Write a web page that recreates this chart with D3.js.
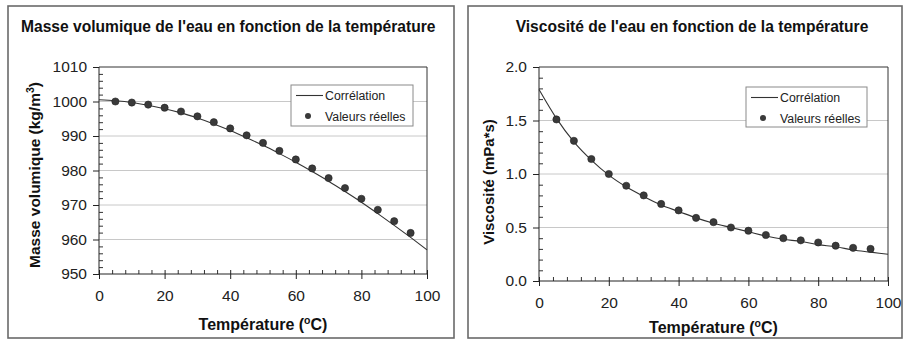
<!DOCTYPE html>
<html>
<head>
<meta charset="utf-8">
<script src="https://cdn.jsdelivr.net/npm/d3@7"></script>
<style>
  html, body { margin: 0; padding: 0; background: #fff; }
  svg { display: block; font-family: "Liberation Sans", Arial, sans-serif; }
</style>
</head>
<body>
<svg id="chart" width="903" height="341"></svg>
<script>
// Temperatures (°C)
const tempPoints = [5, 10, 15, 20, 25, 30, 35, 40, 45, 50, 55, 60, 65, 70, 75, 80, 85, 90, 95];
const tempCurve = [0, 5, 10, 15, 20, 25, 30, 35, 40, 45, 50, 55, 60, 65, 70, 75, 80, 85, 90, 95, 100];

// Density of water (kg/m3): measured values and correlation curve
const densityMeasured = [1000.0, 999.7, 999.1, 998.2, 997.1, 995.7, 994.0, 992.2, 990.2, 988.0,
                         985.7, 983.2, 980.6, 977.8, 974.9, 971.8, 968.6, 965.3, 961.9];
const densityCorrelation = [1000.5, 1000.2, 999.7, 998.9, 997.9, 996.7, 995.2, 993.5, 991.6, 989.5,
                            987.3, 984.9, 982.4, 979.7, 976.9, 973.9, 970.8, 967.5, 964.1, 960.6, 957.0];

// Viscosity of water (mPa*s): measured values and correlation curve
const viscosityMeasured = [1.51, 1.31, 1.14, 1.00, 0.89, 0.80, 0.72, 0.66, 0.59, 0.55,
                           0.50, 0.47, 0.43, 0.40, 0.38, 0.36, 0.33, 0.31, 0.30];
const viscosityCorrelation = [1.79, 1.52, 1.30, 1.13, 0.99, 0.88, 0.79, 0.71, 0.65, 0.59,
                              0.54, 0.50, 0.46, 0.42, 0.39, 0.37, 0.34, 0.32, 0.29, 0.27, 0.25];

// Axis ticks
const xTicks = [0, 20, 40, 60, 80, 100];
const densityTicks = [950, 960, 970, 980, 990, 1000, 1010];
const viscosityTicks = [0.0, 0.5, 1.0, 1.5, 2.0];

const legendLabels = ["Corrélation", "Valeurs réelles"];

const svg = d3.select("#chart");

function panel(cfg) {
  const g = svg.append("g");

  // outer frame
  g.append("rect")
    .attr("x", cfg.frame[0]).attr("y", cfg.frame[1])
    .attr("width", cfg.frame[2]).attr("height", cfg.frame[3])
    .attr("fill", "#fff").attr("stroke", "#6a6a6a").attr("stroke-width", 1.6);

  // title
  g.append("text")
    .attr("x", cfg.titleX).attr("y", 32)
    .attr("text-anchor", cfg.titleAnchor)
    .attr("font-size", 15.6).attr("font-weight", "bold").attr("fill", "#111")
    .text(cfg.title);

  const x = d3.scaleLinear().domain([0, 100]).range([cfg.plot[0], cfg.plot[1]]);
  const y = d3.scaleLinear().domain(cfg.yDomain).range([cfg.plot[3], cfg.plot[2]]);

  // gridlines
  g.append("g").selectAll("line")
    .data(cfg.yTicks.slice(1, -1))
    .join("line")
    .attr("x1", x(0)).attr("x2", x(100))
    .attr("y1", d => y(d)).attr("y2", d => y(d))
    .attr("stroke", "#c8c8c8").attr("stroke-width", 1);

  // top and right border of plot area
  g.append("path")
    .attr("d", `M${x(0)},${y(cfg.yDomain[1])}H${x(100)}V${y(cfg.yDomain[0])}`)
    .attr("fill", "none").attr("stroke", "#333").attr("stroke-width", 1);

  // x minor ticks (inside)
  const xMinor = d3.range(0, 101, 4).filter(v => v % 20 !== 0);
  g.append("g")
    .attr("transform", `translate(0,${y(cfg.yDomain[0])})`)
    .call(d3.axisBottom(x).tickValues(xMinor).tickSize(-4).tickFormat(""))
    .call(a => a.select(".domain").remove())
    .selectAll("line").attr("stroke", "#333");

  // x axis
  const xAxis = g.append("g")
    .attr("transform", `translate(0,${y(cfg.yDomain[0])})`)
    .call(d3.axisBottom(x).tickValues(xTicks).tickSize(5).tickPadding(11).tickFormat(d3.format("d")));
  xAxis.select(".domain").attr("stroke", "#222").attr("d", `M${x(0)},0H${x(100)}`);
  xAxis.selectAll(".tick line").attr("stroke", "#222").attr("y1", -4);
  xAxis.selectAll("text").attr("font-size", 15.5).attr("fill", "#222")
    .attr("font-family", "Liberation Sans, Arial, sans-serif");

  // y minor ticks (inside)
  g.append("g")
    .attr("transform", `translate(${x(0)},0)`)
    .call(d3.axisLeft(y).tickValues(cfg.yMinor).tickSize(-4).tickFormat(""))
    .call(a => a.select(".domain").remove())
    .selectAll("line").attr("stroke", "#333");

  // y axis
  const yAxis = g.append("g")
    .attr("transform", `translate(${x(0)},0)`)
    .call(d3.axisLeft(y).tickValues(cfg.yTicks).tickSize(6).tickPadding(6).tickFormat(cfg.yFormat));
  yAxis.select(".domain").attr("stroke", "#222").attr("d", `M0,${y(cfg.yDomain[0])}V${y(cfg.yDomain[1])}`);
  yAxis.selectAll(".tick line").attr("stroke", "#222");
  yAxis.selectAll("text").attr("font-size", 15.5).attr("fill", "#222")
    .attr("font-family", "Liberation Sans, Arial, sans-serif");

  // correlation curve
  const line = d3.line()
    .x((d, i) => x(tempCurve[i]))
    .y(d => y(d))
    .curve(d3.curveMonotoneX);
  g.append("path")
    .datum(cfg.curve)
    .attr("d", line)
    .attr("fill", "none").attr("stroke", "#333").attr("stroke-width", 1.1);

  // measured values
  g.append("g").selectAll("circle")
    .data(cfg.points)
    .join("circle")
    .attr("cx", (d, i) => x(tempPoints[i]))
    .attr("cy", d => y(d))
    .attr("r", 3.6)
    .attr("fill", "#3a3a3a").attr("stroke", "#222").attr("stroke-width", 0.6);

  // x axis title
  const xt = g.append("text")
    .attr("x", (x(0) + x(100)) / 2).attr("y", cfg.xTitleY)
    .attr("text-anchor", "middle")
    .attr("font-size", 16).attr("font-weight", "bold").attr("fill", "#111");
  xt.append("tspan").text("Température (");
  xt.append("tspan").attr("font-size", 10.5).attr("dy", -6).text("o");
  xt.append("tspan").attr("dy", 6).text("C)");

  // y axis title
  const yt = g.append("text")
    .attr("transform", `translate(${cfg.yTitleX},${cfg.yTitleY}) rotate(-90)`)
    .attr("text-anchor", "middle")
    .attr("font-size", cfg.yTitleSize).attr("font-weight", "bold").attr("fill", "#111");
  cfg.yTitle(yt);

  // legend
  const [lx, ly, lw, lh] = cfg.legend;
  const lg = g.append("g").attr("transform", `translate(${lx},${ly})`);
  lg.append("rect").attr("width", lw).attr("height", lh)
    .attr("fill", "#fff").attr("stroke", "#8a8a8a").attr("stroke-width", 1);
  lg.append("line").attr("x1", 5).attr("x2", 32).attr("y1", 10.5).attr("y2", 10.5)
    .attr("stroke", "#333").attr("stroke-width", 1.1);
  lg.append("circle").attr("cx", 17).attr("cy", 31).attr("r", 3)
    .attr("fill", "#3a3a3a");
  lg.selectAll("text").data(legendLabels).join("text")
    .attr("x", 34).attr("y", (d, i) => 15 + i * 21)
    .attr("font-size", 12.3).attr("fill", "#222")
    .text(d => d);
}

panel({
  frame: [8, 6, 446, 332],
  title: "Masse volumique de l'eau en fonction de la température",
  titleX: 21, titleAnchor: "start",
  plot: [99, 427, 67, 274],
  yDomain: [950, 1010],
  yTicks: densityTicks,
  yMinor: d3.range(950, 1011, 2).filter(v => v % 10 !== 0),
  yFormat: d3.format("d"),
  curve: densityCorrelation,
  points: densityMeasured,
  xTitleY: 330,
  yTitleX: 40, yTitleY: 175, yTitleSize: 15.5,
  yTitle: t => {
    t.append("tspan").text("Masse volumique (kg/m");
    t.append("tspan").attr("font-size", 10.5).attr("dy", -6).text("3");
    t.append("tspan").attr("dy", 6).text(")");
  },
  legend: [291, 85, 122, 41]
});

panel({
  frame: [468, 6, 434, 332],
  title: "Viscosité de l'eau en fonction de la température",
  titleX: 692, titleAnchor: "middle",
  plot: [539, 888, 67, 281],
  yDomain: [0, 2],
  yTicks: viscosityTicks,
  yMinor: d3.range(0, 21, 1).filter(v => v % 5 !== 0).map(v => v / 10),
  yFormat: d3.format(".1f"),
  curve: viscosityCorrelation,
  points: viscosityMeasured,
  xTitleY: 333,
  yTitleX: 494, yTitleY: 182, yTitleSize: 15,
  yTitle: t => t.text("Viscosité (mPa*s)"),
  legend: [746, 87, 121, 40]
});
</script>
</body>
</html>
